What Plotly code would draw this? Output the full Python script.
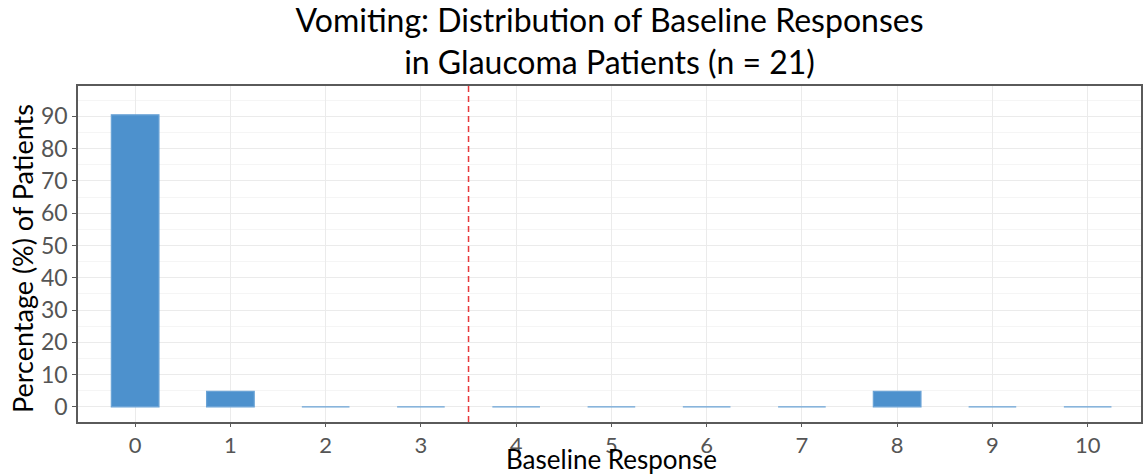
import plotly.graph_objects as go

categories = [0, 1, 2, 3, 4, 5, 6, 7, 8, 9, 10]
percentages = [90.48, 4.76, 0, 0, 0, 0, 0, 0, 4.76, 0, 0]
cutoff = 3.5
y_ticks = [0, 10, 20, 30, 40, 50, 60, 70, 80, 90]

FONT = "Lato"

fig = go.Figure()
fig.add_trace(go.Bar(
    x=categories, y=percentages, width=0.5,
    marker=dict(color="#4d91cd", line=dict(color="#6aa3d6", width=1.2)),
    showlegend=False, hoverinfo="x+y",
))
fig.add_vline(x=cutoff, line=dict(color="#e8383a", width=1.5, dash="6px,4px"))

fig.update_layout(
    width=1143, height=476,
    margin=dict(l=78, r=0, t=86, b=54),
    paper_bgcolor="white", plot_bgcolor="white",
    title=dict(
        text="Vomiting: Distribution of Baseline Responses<br>in Glaucoma Patients (n = 21)",
        x=0.5, xanchor="center", xref="paper", yref="container", y=0.932, yanchor="middle",
        font=dict(family=FONT, size=32, color="black"),
    ),
    font=dict(family=FONT),
    annotations=[
        dict(
            text="Percentage (%) of Patients", textangle=-90,
            xref="paper", yref="paper", x=0, y=0.5, xanchor="center", yanchor="middle",
            xshift=-56, yshift=-5, showarrow=False,
            font=dict(family=FONT, size=27, color="black"),
        ),
        dict(
            text="Baseline Response",
            xref="paper", yref="paper", x=0.5, y=0, xanchor="center", yanchor="middle",
            xshift=2, yshift=-37, showarrow=False,
            font=dict(family=FONT, size=26, color="black"),
        ),
    ],
)
fig.update_xaxes(
    range=[-0.6, 10.56], tickvals=categories, ticktext=[str(c) for c in categories],
    tickfont=dict(size=22, color="#555555"),
    showgrid=True, gridcolor="#ebebeb", gridwidth=1.2,
    showline=True, linecolor="#5a5a5a", linewidth=1.6, mirror=True,
    ticks="outside", ticklen=3, tickcolor="#5a5a5a",
    zeroline=False,
)
fig.update_yaxes(
    range=[-4.7, 99.4], tickvals=y_ticks,
    tickfont=dict(size=23, color="#555555"),
    showgrid=True, gridcolor="#ebebeb", gridwidth=1.2,
    minor=dict(dtick=5, showgrid=True, gridcolor="#f5f5f5", gridwidth=1),
    showline=True, linecolor="#5a5a5a", linewidth=1.6, mirror=True,
    ticks="outside", ticklen=4, tickcolor="#5a5a5a",
    zeroline=False,
)

fig.write_html("out.html", config={"displayModeBar": False},
               post_script="document.body.style.margin='0';document.body.style.overflow='hidden';")
